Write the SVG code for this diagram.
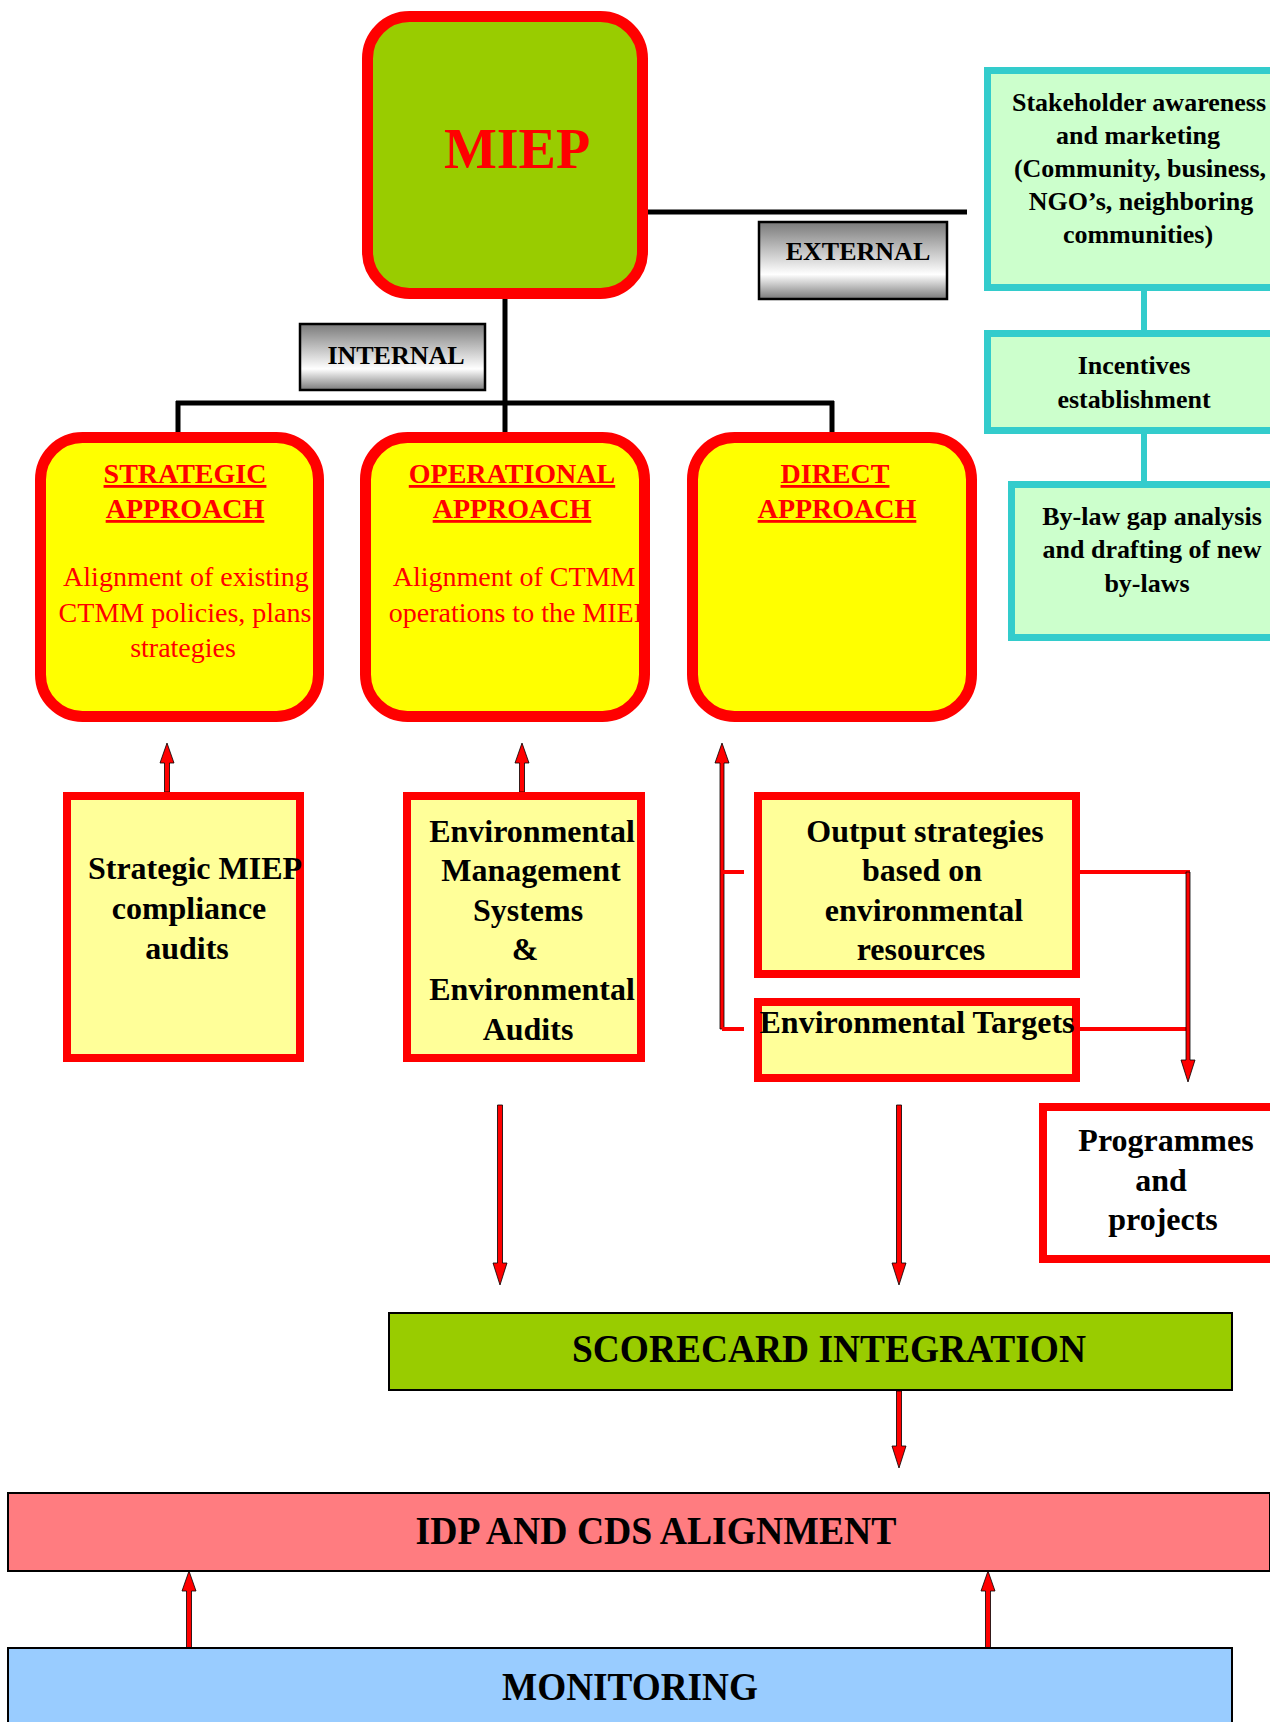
<svg xmlns="http://www.w3.org/2000/svg" width="1270" height="1722" viewBox="0 0 1270 1722">
<defs>
<linearGradient id="gr" x1="0" y1="0" x2="0" y2="1">
<stop offset="0" stop-color="#7a7a7a"/>
<stop offset="0.68" stop-color="#ffffff"/>
<stop offset="1" stop-color="#7a7a7a"/>
</linearGradient>
</defs>
<style>
text{font-family:"Liberation Serif","Times New Roman",serif;}
.b{font-weight:bold;}
.red{fill:#ff0000;}
.blk{fill:#000;}
.appr{fill:#ffff00;}
.apprS{fill:none;stroke:#ff0000;stroke-width:11;}
.low{fill:#ffff99;stroke:#ff0000;stroke-width:8;}
.cy{fill:#ccffcc;stroke:#33cccc;stroke-width:7;}
.lab{fill:url(#gr);stroke:#000;stroke-width:2.5;}
.band{stroke:#000;stroke-width:2;}
.bl{stroke:#000;stroke-width:5;fill:none;}
.cyl{stroke:#33cccc;stroke-width:6;fill:none;}
.rl{stroke:#ff0000;stroke-width:4;fill:none;}
.arr{fill:#ff0000;stroke:#000;stroke-width:0.8;}
.t32{font-size:32px;font-weight:bold;}
.t26{font-size:26px;font-weight:bold;}
.t28{font-size:28px;}
</style>

<g id="connectors">
<path class="bl" d="M505 299 V403 M176 403 H834 M178 401 V434 M505 401 V434 M832 401 V434"/>
<path class="bl" d="M646 212 H967"/>
<path class="cyl" d="M1144 290 V331 M1144 433 V482"/>
<polygon class="arr" points="164.5,792 164.5,763 160,763 167,743 174,763 169.5,763 169.5,792"/>
<polygon class="arr" points="519.5,792 519.5,763 515,763 522,743 529,763 524.5,763 524.5,792"/>
<polygon class="arr" points="720,1029 720,763 715,763 722,743 729,763 724,763 724,1029"/>
<path class="rl" d="M722 872 H744 M722 1029 H744"/>
<path class="rl" d="M1080 872 H1190 M1080 1029 H1188"/>
<polygon class="arr" points="1186,872 1186,1060 1181,1060 1188,1082 1195,1060 1190,1060 1190,872"/>
<polygon class="arr" points="497.5,1105 497.5,1263 493,1263 500,1285 507,1263 502.5,1263 502.5,1105"/>
<polygon class="arr" points="896.5,1105 896.5,1263 892,1263 899,1285 906,1263 901.5,1263 901.5,1105"/>
<polygon class="arr" points="896.5,1391 896.5,1446 892,1446 899,1468 906,1446 901.5,1446 901.5,1391"/>
<polygon class="arr" points="186.5,1648 186.5,1591 182,1591 189,1571 196,1591 191.5,1591 191.5,1648"/>
<polygon class="arr" points="985.5,1648 985.5,1591 981,1591 988,1571 995,1591 990.5,1591 990.5,1648"/>
</g>

<g id="miep">
<rect x="367.5" y="16.5" width="275" height="277" rx="42" fill="#99cc00" stroke="#ff0000" stroke-width="11"/>
<text x="517" y="168" text-anchor="middle" class="b red" font-size="56">MIEP</text>
</g>

<g id="external">
<rect class="lab" x="759" y="222" width="188" height="77"/>
<text x="858" y="260" text-anchor="middle" class="t26 blk">EXTERNAL</text>
</g>

<g id="internal">
<rect class="lab" x="300" y="324" width="185" height="66"/>
<text x="396" y="364" text-anchor="middle" class="t26 blk">INTERNAL</text>
</g>

<g id="strategic">
<rect class="appr" x="40.5" y="437.5" width="278" height="279" rx="42"/>
<text text-anchor="middle" class="t28 b red" text-decoration="underline"><tspan x="185" y="483">STRATEGIC</tspan><tspan x="185" y="518">APPROACH</tspan></text>
<text text-anchor="middle" class="t28 red"><tspan x="186" y="586">Alignment of existing</tspan><tspan x="185" y="622">CTMM policies, plans</tspan><tspan x="183" y="657">strategies</tspan></text>
<rect class="apprS" x="40.5" y="437.5" width="278" height="279" rx="42"/>
</g>

<g id="operational">
<rect class="appr" x="365.5" y="437.5" width="279" height="279" rx="42"/>
<text text-anchor="middle" class="t28 b red" text-decoration="underline"><tspan x="512" y="483">OPERATIONAL</tspan><tspan x="512" y="518">APPROACH</tspan></text>
<text text-anchor="middle" class="t28 red"><tspan x="514" y="586">Alignment of CTMM</tspan><tspan x="519" y="622">operations to the MIEP</tspan></text>
<rect class="apprS" x="365.5" y="437.5" width="279" height="279" rx="42"/>
</g>

<g id="direct">
<rect class="appr" x="692.5" y="437.5" width="279" height="279" rx="42"/>
<text text-anchor="middle" class="t28 b red" text-decoration="underline"><tspan x="835" y="483">DIRECT</tspan><tspan x="837" y="518">APPROACH</tspan></text>
<rect class="apprS" x="692.5" y="437.5" width="279" height="279" rx="42"/>
</g>

<g id="stakeholder">
<rect class="cy" x="987.5" y="70.5" width="300" height="217"/>
<text text-anchor="middle" class="t26 blk"><tspan x="1139" y="111">Stakeholder awareness</tspan><tspan x="1138" y="144">and marketing</tspan><tspan x="1140" y="177">(Community, business,</tspan><tspan x="1141" y="210">NGO’s, neighboring</tspan><tspan x="1138" y="243">communities)</tspan></text>
</g>

<g id="incentives">
<rect class="cy" x="987.5" y="333.5" width="300" height="97"/>
<text text-anchor="middle" class="t26 blk"><tspan x="1134" y="374">Incentives</tspan><tspan x="1134" y="408">establishment</tspan></text>
</g>

<g id="bylaw">
<rect class="cy" x="1011.5" y="484.5" width="280" height="153"/>
<text text-anchor="middle" class="t26 blk"><tspan x="1152" y="525">By-law gap analysis</tspan><tspan x="1152" y="558">and drafting of new</tspan><tspan x="1147" y="592">by-laws</tspan></text>
</g>

<g id="compliance">
<rect class="low" x="67" y="796" width="233" height="262"/>
<text text-anchor="middle" class="t32 blk"><tspan x="195" y="879">Strategic MIEP</tspan><tspan x="189" y="919">compliance</tspan><tspan x="187" y="959">audits</tspan></text>
</g>

<g id="ems">
<rect class="low" x="407" y="796" width="234" height="262"/>
<text text-anchor="middle" class="t32 blk"><tspan x="532" y="842">Environmental</tspan><tspan x="531" y="881">Management</tspan><tspan x="528" y="921">Systems</tspan><tspan x="525" y="960">&amp;</tspan><tspan x="532" y="1000">Environmental</tspan><tspan x="528" y="1040">Audits</tspan></text>
</g>

<g id="output">
<rect class="low" x="758" y="796" width="318" height="178"/>
<text text-anchor="middle" class="t32 blk"><tspan x="925" y="842">Output strategies</tspan><tspan x="922" y="881">based on</tspan><tspan x="924" y="921">environmental</tspan><tspan x="921" y="960">resources</tspan></text>
</g>

<g id="targets">
<rect class="low" x="758" y="1002" width="318" height="76"/>
<text x="917" y="1033" text-anchor="middle" class="t32 blk">Environmental Targets</text>
</g>

<g id="programmes">
<rect x="1043" y="1107" width="260" height="152" fill="#ffffff" stroke="#ff0000" stroke-width="8"/>
<text text-anchor="middle" class="t32 blk"><tspan x="1166" y="1151">Programmes</tspan><tspan x="1161" y="1191">and</tspan><tspan x="1163" y="1230">projects</tspan></text>
</g>

<g id="scorecard">
<rect class="band" x="389" y="1313" width="843" height="77" fill="#99cc00"/>
<text x="829" y="1362" text-anchor="middle" class="b blk" font-size="40" textLength="514" lengthAdjust="spacingAndGlyphs">SCORECARD INTEGRATION</text>
</g>

<g id="idp">
<rect class="band" x="8" y="1493" width="1262" height="78" fill="#ff7c80"/>
<text x="656" y="1544" text-anchor="middle" class="b blk" font-size="40" textLength="481" lengthAdjust="spacingAndGlyphs">IDP AND CDS ALIGNMENT</text>
</g>

<g id="monitoring">
<rect class="band" x="8" y="1648" width="1224" height="90" fill="#99ccff"/>
<text x="630" y="1700" text-anchor="middle" class="b blk" font-size="40" textLength="256" lengthAdjust="spacingAndGlyphs">MONITORING</text>
</g>
</svg>
